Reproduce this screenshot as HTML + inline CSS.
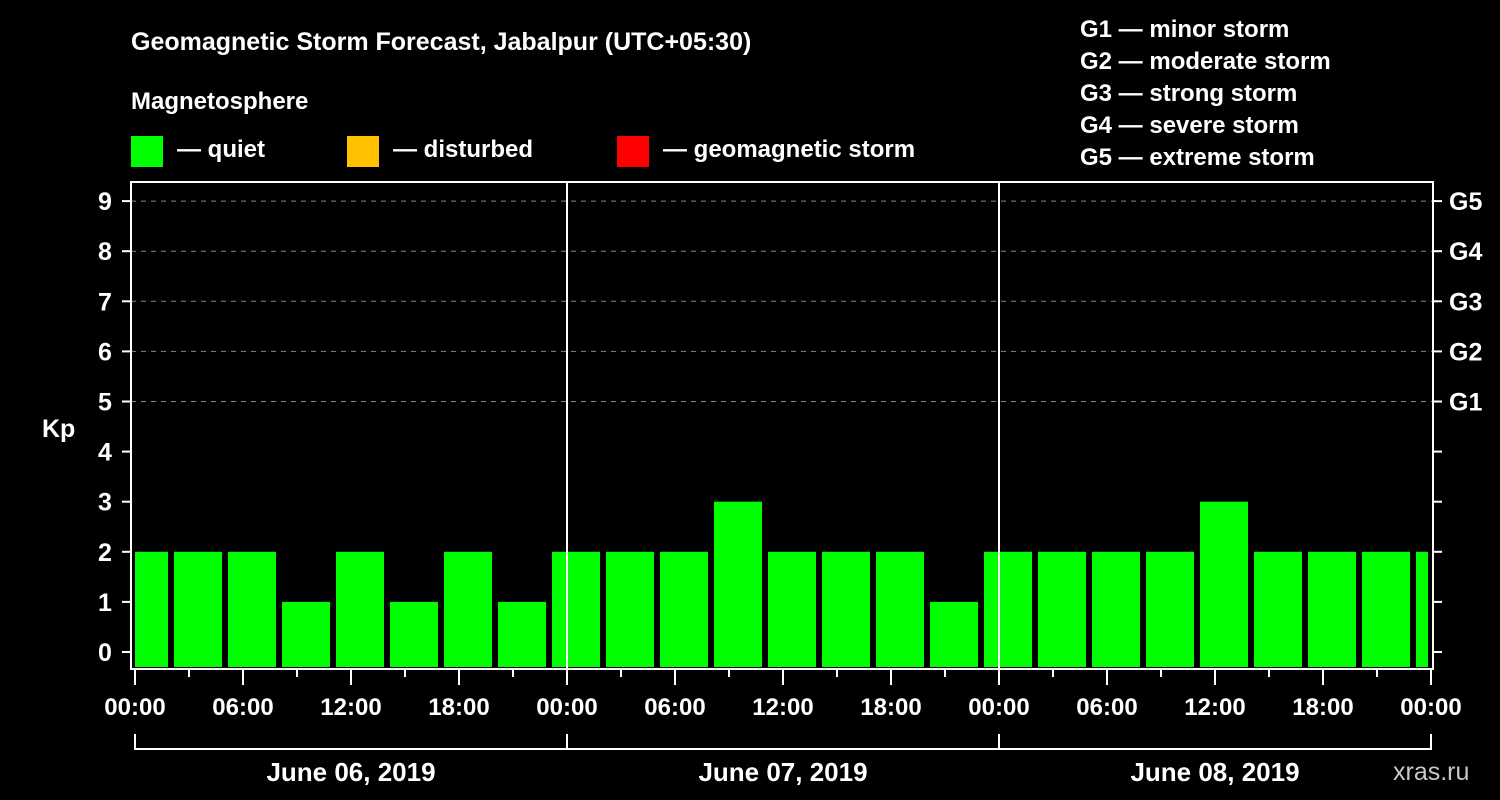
<!DOCTYPE html>
<html><head><meta charset="utf-8"><style>
html,body{margin:0;padding:0;background:#000;}
svg{display:block;font-family:"Liberation Sans",sans-serif;font-weight:bold;}
</style></head><body>
<svg id="chart" width="1500" height="800" viewBox="0 0 1500 800" xmlns="http://www.w3.org/2000/svg">
<rect width="1500" height="800" fill="#000"/>
<text x="131" y="50" fill="#fff" font-size="25">Geomagnetic Storm Forecast, Jabalpur (UTC+05:30)</text>
<text x="131" y="109" fill="#fff" font-size="24">Magnetosphere</text>
<g><rect x="131" y="136" width="32" height="31" fill="#00ff00"/><text x="177" y="157" fill="#fff" font-size="24">— quiet</text></g>
<g><rect x="347" y="136" width="32" height="31" fill="#ffc000"/><text x="393" y="157" fill="#fff" font-size="24">— disturbed</text></g>
<g><rect x="617" y="136" width="32" height="31" fill="#ff0000"/><text x="663" y="157" fill="#fff" font-size="24">— geomagnetic storm</text></g>
<g fill="#fff" font-size="24">
<text x="1080" y="37">G1 — minor storm</text>
<text x="1080" y="69">G2 — moderate storm</text>
<text x="1080" y="101">G3 — strong storm</text>
<text x="1080" y="133">G4 — severe storm</text>
<text x="1080" y="165">G5 — extreme storm</text>
</g>
<text x="42" y="437" fill="#fff" font-size="25">Kp</text>
<g id="grid"></g><g id="bars"></g><g id="axes"></g>
<text x="1393" y="780" fill="#c8c8c8" font-size="25" font-weight="normal">xras.ru</text>
</svg>
<script>
const kpValues=[2,2,2,1,2,1,2,1,2,2,2,3,2,2,2,1,2,2,2,2,3,2,2,2,2];
const binStartHours=-1; const binHours=3;
const yTicks=[0,1,2,3,4,5,6,7,8,9];
const gLabels=["G1","G2","G3","G4","G5"];
const gLevels=[5,6,7,8,9];
const dayLabels=["June 06, 2019","June 07, 2019","June 08, 2019"];
const hourTickLabels=["00:00","06:00","12:00","18:00"];

const NS="http://www.w3.org/2000/svg";
const X0=135,PXH=18,Y0=652,PXK=50.1,LEFT=131,RIGHT=1433,TOP=182,BOT=669;
const xs=h=>X0+h*PXH, ys=k=>Y0-k*PXK;
function mk(t,a,p){const e=document.createElementNS(NS,t);for(const k in a)e.setAttribute(k,a[k]);p.appendChild(e);return e;}
const grid=document.getElementById('grid'),bars=document.getElementById('bars'),axes=document.getElementById('axes');
const totalH=dayLabels.length*24;
// gridlines
yTicks.forEach(k=>{if(k>=5){const l=mk('line',{x1:LEFT,x2:RIGHT,y1:ys(k),y2:ys(k),stroke:'#888','stroke-width':1,'stroke-dasharray':'5,5'},grid);

}});
// bars
kpValues.forEach((v,i)=>{let a=xs(binStartHours+i*binHours)+3,b=xs(binStartHours+(i+1)*binHours)-3;a=Math.max(a,xs(0));b=Math.min(b,xs(totalH)-3);
const r=mk('rect',{x:a,y:ys(v),width:b-a,height:667-ys(v),fill:v>=5?'#ff0000':(v>=4?'#ffc000':'#00ff00')},bars);

});
// day separators
for(let d=1;d<dayLabels.length;d++){const l=mk('line',{x1:xs(d*24),x2:xs(d*24),y1:TOP,y2:BOT,stroke:'#fff','stroke-width':2},axes);

}
// frame
const f=mk('rect',{x:LEFT,y:TOP,width:RIGHT-LEFT,height:BOT-TOP,fill:'none',stroke:'#fff','stroke-width':2},axes);


// y ticks
yTicks.forEach(k=>{mk('line',{x1:122,x2:LEFT,y1:ys(k),y2:ys(k),stroke:'#fff','stroke-width':2},axes);
mk('line',{x1:RIGHT,x2:1442,y1:ys(k),y2:ys(k),stroke:'#fff','stroke-width':2},axes);
const t=mk('text',{x:105,y:ys(k)+9,fill:'#fff','font-size':25,'text-anchor':'middle'},axes);t.textContent=k;

});
gLevels.forEach((k,i)=>{const t=mk('text',{x:1449,y:ys(k)+9,fill:'#fff','font-size':25},axes);t.textContent=gLabels[i];

});
// x ticks
for(let h=0;h<=totalH;h+=3){const maj=h%6===0;mk('line',{x1:xs(h),x2:xs(h),y1:BOT,y2:maj?685:677,stroke:'#fff','stroke-width':2},axes);
if(maj){const t=mk('text',{x:xs(h),y:715,fill:'#fff','font-size':24,'text-anchor':'middle'},axes);t.textContent=hourTickLabels[(h%24)/6];

}}
// day bracket
mk('line',{x1:xs(0),x2:xs(totalH),y1:749,y2:749,stroke:'#fff','stroke-width':2},axes);
for(let d=0;d<=dayLabels.length;d++)mk('line',{x1:xs(d*24),x2:xs(d*24),y1:734,y2:750,stroke:'#fff','stroke-width':2},axes);
dayLabels.forEach((s,d)=>{const t=mk('text',{x:xs(d*24+12),y:781,fill:'#fff','font-size':26,'text-anchor':'middle'},axes);t.textContent=s;

});
</script>
</body></html>
